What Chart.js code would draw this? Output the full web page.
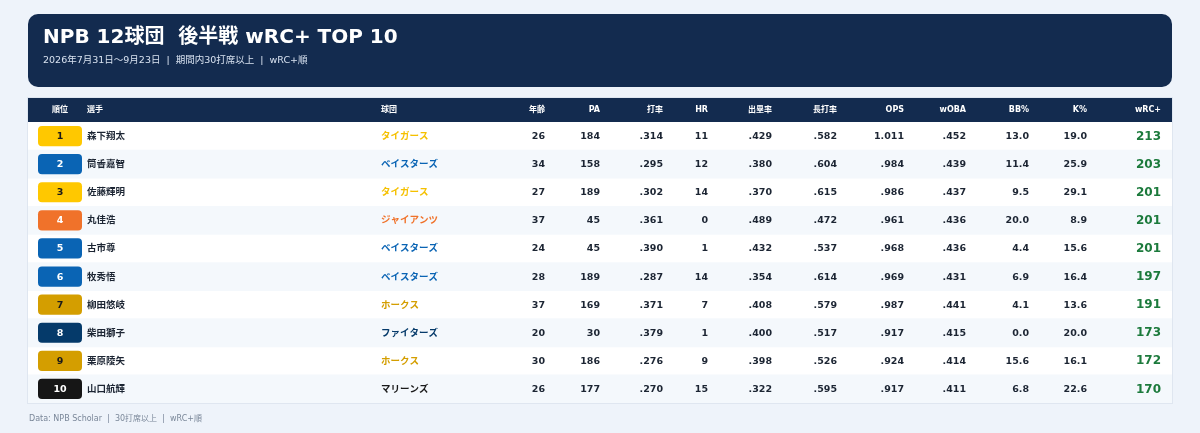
<!DOCTYPE html>
<html>
<head>
<meta charset="utf-8">
<script src="https://cdn.jsdelivr.net/npm/chart.js@4/dist/chart.umd.min.js"></script>
<style>
  html, body { margin: 0; padding: 0; background: #eef3fa; }
  #wrap { width: 1200px; height: 433px; position: relative; }
</style>
</head>
<body>
<div id="wrap"><canvas id="tableChart"></canvas></div>
<script>
// =========================================
// DATA
// =========================================

const ranks = ["1", "2", "3", "4", "5", "6", "7", "8", "9", "10"];
const players = ["森下翔太", "筒香嘉智", "佐藤輝明", "丸佳浩", "古市尊", "牧秀悟", "柳田悠岐", "柴田獅子", "栗原陵矢", "山口航輝"];
const teams = ["タイガース", "ベイスターズ", "タイガース", "ジャイアンツ", "ベイスターズ", "ベイスターズ", "ホークス", "ファイターズ", "ホークス", "マリーンズ"];
const ages = ["26", "34", "27", "37", "24", "28", "37", "20", "30", "26"];
const pa = ["184", "158", "189", "45", "45", "189", "169", "30", "186", "177"];
const avg = [".314", ".295", ".302", ".361", ".390", ".287", ".371", ".379", ".276", ".270"];
const hr = ["11", "12", "14", "0", "1", "14", "7", "1", "9", "15"];
const obp = [".429", ".380", ".370", ".489", ".432", ".354", ".408", ".400", ".398", ".322"];
const slg = [".582", ".604", ".615", ".472", ".537", ".614", ".579", ".517", ".526", ".595"];
const ops = ["1.011", ".984", ".986", ".961", ".968", ".969", ".987", ".917", ".924", ".917"];
const woba = [".452", ".439", ".437", ".436", ".436", ".431", ".441", ".415", ".414", ".411"];
const bbPct = ["13.0", "11.4", "9.5", "20.0", "4.4", "6.9", "4.1", "0.0", "15.6", "6.8"];
const kPct = ["19.0", "25.9", "29.1", "8.9", "15.6", "16.4", "13.6", "20.0", "16.1", "22.6"];
const wrcPlus = ["213", "203", "201", "201", "201", "197", "191", "173", "172", "170"];

const headers = ["順位", "選手", "球団", "年齢", "PA", "打率", "HR", "出塁率", "長打率", "OPS", "wOBA", "BB%", "K%", "wRC+"];

// =========================================
// STYLE
// =========================================

const teamColors = {
  "タイガース": "#ffc800",
  "ベイスターズ": "#0a64b4",
  "ジャイアンツ": "#f0722a",
  "ホークス": "#d49e00",
  "ファイターズ": "#053a6a",
  "マリーンズ": "#161616"
};
const darkBadgeText = { "タイガース": true, "ホークス": true };
const teamTextColors = {
  "タイガース": "#f5c000",
  "ベイスターズ": "#0a64b4",
  "ジャイアンツ": "#f0722a",
  "ホークス": "#d49e00",
  "ファイターズ": "#053a6a",
  "マリーンズ": "#1a1a1a"
};

const FONT = "'DejaVu Sans', 'Noto Sans CJK JP', sans-serif";
const NAVY = "#132b4f";
const TEXT = "#1c2533";

// column x in table units (0 = table left edge), align
const columns = [
  { x: 32, align: "center" },
  { x: 59, align: "left" },
  { x: 353, align: "left" },
  { x: 517, align: "right" },
  { x: 572, align: "right" },
  { x: 635, align: "right" },
  { x: 680, align: "right" },
  { x: 744, align: "right" },
  { x: 809, align: "right" },
  { x: 876, align: "right" },
  { x: 938, align: "right" },
  { x: 1001, align: "right" },
  { x: 1059, align: "right" },
  { x: 1133, align: "right" }
];

function roundRect(ctx, x, y, w, h, r) {
  ctx.beginPath();
  ctx.moveTo(x + r, y);
  ctx.arcTo(x + w, y, x + w, y + h, r);
  ctx.arcTo(x + w, y + h, x, y + h, r);
  ctx.arcTo(x, y + h, x, y, r);
  ctx.arcTo(x, y, x + w, y, r);
  ctx.closePath();
}

// =========================================
// FRAME PLUGIN
// =========================================

const framePlugin = {
  id: "frame",
  beforeDraw(chart) {
    const ctx = chart.ctx;
    const a = chart.chartArea;
    ctx.save();
    ctx.fillStyle = "#eef3fa";
    ctx.fillRect(0, 0, chart.width, chart.height);

    // title box
    ctx.fillStyle = NAVY;
    roundRect(ctx, 28, 14, 1144, 73, 10);
    ctx.fill();
    ctx.fillStyle = "#ffffff";
    ctx.font = "bold 20px " + FONT;
    ctx.textBaseline = "middle";
    ctx.textAlign = "left";
    ctx.fillText("NPB 12球団  後半戦 wRC+ TOP 10", 43, 38);
    ctx.font = "9.5px " + FONT;
    ctx.fillStyle = "#d8e2f0";
    ctx.fillText("2026年7月31日〜9月23日  |  期間内30打席以上  |  wRC+順", 43, 61);

    // table body + header row
    ctx.fillStyle = "#ffffff";
    ctx.fillRect(a.left, a.top, a.width, a.height);
    ctx.strokeStyle = "#dfe6f0";
    ctx.strokeRect(a.left - 0.5, 97.5, a.width + 1, a.bottom - 97);
    ctx.fillStyle = NAVY;
    ctx.fillRect(a.left, 98, a.width, a.top - 98);

    ctx.fillStyle = "#ffffff";
    ctx.font = "bold 8px " + FONT;
    const x = chart.scales.x;
    headers.forEach((h, i) => {
      ctx.textAlign = columns[i].align;
      ctx.fillText(h, x.getPixelForValue(columns[i].x), 110);
    });

    // footer
    ctx.fillStyle = "#7a8799";
    ctx.font = "8px " + FONT;
    ctx.textAlign = "left";
    ctx.fillText("Data: NPB Scholar  |  30打席以上  |  wRC+順", 29, 419);
    ctx.restore();
  },
  afterDatasetsDraw(chart) {
    const ctx = chart.ctx;
    const x = chart.scales.x;
    const y = chart.scales.y;
    ctx.save();
    ctx.textBaseline = "middle";
    const cols = [ranks, players, teams, ages, pa, avg, hr, obp, slg, ops, woba, bbPct, kPct, wrcPlus];
    for (let r = 0; r < ranks.length; r++) {
      const py = y.getPixelForValue(r) + 0.5;
      cols.forEach((col, c) => {
        const t = teams[r];
        ctx.textAlign = columns[c].align;
        ctx.font = "bold 9.5px " + FONT;
        ctx.fillStyle = TEXT;
        if (c === 0) ctx.fillStyle = darkBadgeText[t] ? "#1a1a1a" : "#ffffff";
        if (c === 2) ctx.fillStyle = teamTextColors[t];
        if (c === 13) {
          ctx.font = "bold 12px " + FONT;
          ctx.fillStyle = "#1c7a3c";
        }
        ctx.fillText(col[r], x.getPixelForValue(columns[c].x), py);
      });
    }
    ctx.restore();
  }
};

// =========================================
// TABLE CHART
// =========================================

const tableCtx =
document.getElementById("tableChart");

new Chart(tableCtx, {

  type: "bar",

  data: {

    labels: players,

    datasets: [
      {
        label: "badge",
        data: ranks.map(() => [10, 54]),
        backgroundColor: teams.map(t => teamColors[t]),
        borderRadius: 4,
        borderSkipped: false,
        categoryPercentage: 0.72,
        barPercentage: 1,
        grouped: false,
        order: 0
      },
      {
        label: "stripe",
        data: ranks.map((r, i) => i % 2 === 1 ? [0, 1144] : null),
        backgroundColor: "#f4f8fc",
        categoryPercentage: 1,
        barPercentage: 1,
        grouped: false,
        order: 1
      }
    ]
  },

  options: {

    indexAxis: "y",

    responsive: true,

    maintainAspectRatio: false,

    animation: false,

    layout: { padding: { left: 28, right: 28, top: 122, bottom: 30 } },

    plugins: {
      legend: { display: false },
      tooltip: { enabled: false }
    },

    scales: {
      x: { type: "linear", min: 0, max: 1144, display: false },
      y: { display: false }
    }
  },

  plugins: [framePlugin]
});
</script>
</body>
</html>
